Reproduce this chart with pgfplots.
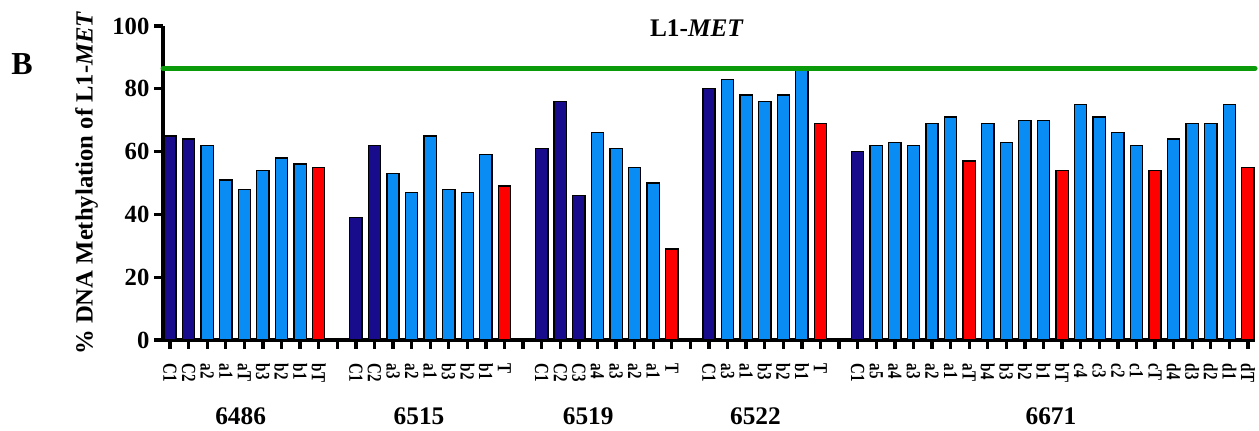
\documentclass[border=0pt]{standalone}
\usepackage{pgfplots}
\pgfplotsset{compat=1.18}
\usepackage{fontspec}
\setmainfont{Liberation Serif}
\definecolor{navy}{HTML}{180C8C}
\definecolor{lblue}{HTML}{0A8CF5}
\definecolor{bred}{HTML}{FF0000}
\definecolor{lgreen}{HTML}{0A9A0A}
\begin{document}
\begin{tikzpicture}
\path[use as bounding box] (0,0) rectangle (944.25pt,323.25pt);
\begin{axis}[
  at={(122.25pt,68.25pt)}, anchor=south west,
  scale only axis, width=819pt, height=235.5pt,
  xmin=-0.377, xmax=58.38, ymin=0, ymax=100,
  axis x line*=bottom, axis y line*=left,
  axis line style={-, line width=2.5pt},
  xtick pos=left, ytick pos=left,
  xtick align=outside, ytick align=outside,
  major tick length=6pt,
  xticklabel shift=11pt,
  yticklabel shift=2pt,
  ytick={0,20,...,100},
  xtick={0,...,58},
  xticklabels={C1,C2,a2,a1,aT,b3,b2,b1,bT,,C1,C2,a3,a2,a1,b3,b2,b1,T,,C1,C2,C3,a4,a3,a2,a1,T,,C1,a3,a1,b3,b2,b1,T,,C1,a5,a4,a3,a2,a1,aT,b4,b3,b2,b1,bT,c4,c3,c2,c1,cT,d4,d3,d2,d1,dT},
  x tick label style={rotate=-90, anchor=west, xscale=0.75, inner sep=1pt,
    font=\bfseries\fontsize{15}{15}\selectfont},
  y tick label style={font=\bfseries\fontsize{18.5}{18.5}\selectfont, inner sep=2pt},
  /pgf/number format/assume math mode=true,
  ylabel={\% DNA Methylation of L1-\textit{MET}},
  ylabel style={at={(rel axis cs:-0.07,0.5)}, anchor=center, rotate=0,
    font=\bfseries\fontsize{18.5}{18.5}\selectfont},
  clip=false,
]
% dark navy (controls)
\addplot[ybar, bar width=0.66, bar shift=0pt, fill=navy, draw=black, line width=1pt]
 coordinates {(0,65) (1,64) (10,39) (11,62) (20,61) (21,76) (22,46) (29,80) (37,60)};
% light blue
\addplot[ybar, bar width=0.66, bar shift=0pt, fill=lblue, draw=black, line width=1pt]
 coordinates {(2,62) (3,51) (4,48) (5,54) (6,58) (7,56)
   (12,53) (13,47) (14,65) (15,48) (16,47) (17,59)
   (23,66) (24,61) (25,55) (26,50)
   (30,83) (31,78) (32,76) (33,78) (34,86)
   (38,62) (39,63) (40,62) (41,69) (42,71)
   (44,69) (45,63) (46,70) (47,70)
   (49,75) (50,71) (51,66) (52,62)
   (54,64) (55,69) (56,69) (57,75)};
% red (tumours)
\addplot[ybar, bar width=0.66, bar shift=0pt, fill=bred, draw=black, line width=1pt]
 coordinates {(8,55) (18,49) (27,29) (35,69) (43,57) (48,54) (53,54) (58,55)};
% green reference line
\addplot[lgreen, line width=3.75pt, line cap=round] coordinates {(-0.377,86.5) (58.38,86.5)};
% x tick marks
\addplot[ycomb, line width=2.5pt, black, mark=none] coordinates {
 (0,-2.8) (1,-2.8) (2,-2.8) (3,-2.8) (4,-2.8) (5,-2.8) (6,-2.8) (7,-2.8) (8,-2.8) (9,-2.8)
 (10,-2.8) (11,-2.8) (12,-2.8) (13,-2.8) (14,-2.8) (15,-2.8) (16,-2.8) (17,-2.8) (18,-2.8) (19,-2.8)
 (20,-2.8) (21,-2.8) (22,-2.8) (23,-2.8) (24,-2.8) (25,-2.8) (26,-2.8) (27,-2.8) (28,-2.8) (29,-2.8)
 (30,-2.8) (31,-2.8) (32,-2.8) (33,-2.8) (34,-2.8) (35,-2.8) (36,-2.8) (37,-2.8) (38,-2.8) (39,-2.8)
 (40,-2.8) (41,-2.8) (42,-2.8) (43,-2.8) (44,-2.8) (45,-2.8) (46,-2.8) (47,-2.8) (48,-2.8) (49,-2.8)
 (50,-2.8) (51,-2.8) (52,-2.8) (53,-2.8) (54,-2.8) (55,-2.8) (56,-2.8) (57,-2.8) (58,-2.8)};
% y tick marks
\addplot[black, line width=2.5pt] coordinates {(-0.377,0) (-0.85,0)};
\addplot[black, line width=2.5pt] coordinates {(-0.377,20) (-0.85,20)};
\addplot[black, line width=2.5pt] coordinates {(-0.377,40) (-0.85,40)};
\addplot[black, line width=2.5pt] coordinates {(-0.377,60) (-0.85,60)};
\addplot[black, line width=2.5pt] coordinates {(-0.377,80) (-0.85,80)};
\addplot[black, line width=2.5pt] coordinates {(-0.377,100) (-0.85,100)};
\node[font=\bfseries\fontsize{19}{19}\selectfont] at (axis cs:3.8,-24.2) {6486};
\node[font=\bfseries\fontsize{19}{19}\selectfont] at (axis cs:13.4,-24.2) {6515};
\node[font=\bfseries\fontsize{19}{19}\selectfont] at (axis cs:22.5,-24.2) {6519};
\node[font=\bfseries\fontsize{19}{19}\selectfont] at (axis cs:31.5,-24.2) {6522};
\node[font=\bfseries\fontsize{19}{19}\selectfont] at (axis cs:47.4,-24.2) {6671};
\node[font=\bfseries\fontsize{19}{19}\selectfont] at (axis cs:28.35,99.4) {L1-\textit{MET}};
\node[font=\bfseries\fontsize{24}{24}\selectfont] at (axis cs:-7.96,87.9) {B};
\end{axis}
\end{tikzpicture}
\end{document}
